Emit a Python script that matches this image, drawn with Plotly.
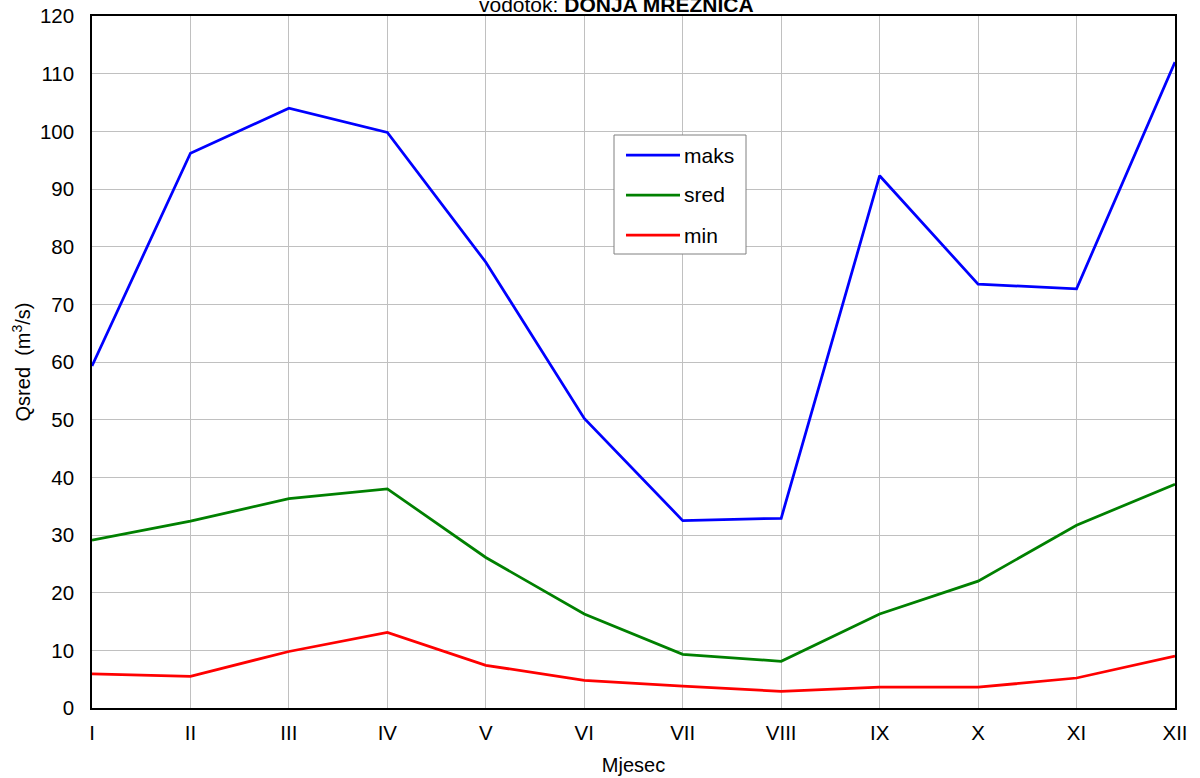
import plotly.graph_objects as go

months = ["I", "II", "III", "IV", "V", "VI", "VII", "VIII", "IX", "X", "XI", "XII"]
maks = [59.3, 96.2, 104.0, 99.8, 77.3, 50.2, 32.5, 32.9, 92.3, 73.5, 72.7, 112.0]
sred = [29.1, 32.4, 36.3, 38.0, 26.1, 16.3, 9.3, 8.1, 16.3, 22.0, 31.7, 38.8]
minv = [5.9, 5.5, 9.8, 13.1, 7.4, 4.8, 3.8, 2.9, 3.6, 3.6, 5.2, 9.0]

series = [("maks", maks, "#0000ff"), ("sred", sred, "#008000"), ("min", minv, "#ff0000")]

FONT = "Liberation Sans, Arial, sans-serif"
L, R, T, B = 92, 25, 16, 70
W, H = 1200, 778
pw, ph = W - L - R, H - T - B

fig = go.Figure()
for name, vals, col in series:
    fig.add_trace(go.Scatter(x=list(range(len(months))), y=vals, mode="lines", name=name,
                             line=dict(color=col, width=2.75), showlegend=False))

def px_x(p):
    return (p - L) / pw

def px_y(p):
    return (H - B - p) / ph

shapes = [dict(type="rect", xref="paper", yref="paper", x0=px_x(614), x1=px_x(746),
               y0=px_y(254), y1=px_y(135), line=dict(color="#808080", width=1),
               fillcolor="white", layer="above")]
annotations = []
for i, (name, vals, col) in enumerate(series):
    yy = 155 + 40 * i
    shapes.append(dict(type="line", xref="paper", yref="paper", x0=px_x(626), x1=px_x(680),
                       y0=px_y(yy), y1=px_y(yy), line=dict(color=col, width=2.75), layer="above"))
    annotations.append(dict(xref="paper", yref="paper", x=px_x(682), y=px_y(yy), text=name,
                            showarrow=False, xanchor="left", yanchor="middle",
                            font=dict(size=21, color="black", family=FONT)))

annotations.append(dict(xref="paper", yref="paper", x=px_x(616), y=px_y(4.5),
                        text="vodotok: <b>DONJA MREŽNICA</b>", showarrow=False,
                        xanchor="center", yanchor="middle",
                        font=dict(size=21, color="black", family=FONT)))

fig.update_layout(
    width=W, height=H,
    margin=dict(l=L, r=R, t=T, b=B),
    paper_bgcolor="white", plot_bgcolor="white",
    font=dict(family=FONT, size=20, color="black"),
    shapes=shapes, annotations=annotations,
    xaxis=dict(tickmode="array", tickvals=list(range(len(months))), ticktext=months,
               range=[0, len(months) - 1], showgrid=True, gridcolor="#c0c0c0", gridwidth=1,
               showline=True, linecolor="black", linewidth=1.5, mirror=True,
               ticks="outside", ticklen=6, tickcolor="rgba(0,0,0,0)",
               zeroline=False, tickfont=dict(size=20.5), automargin=False,
               title=dict(text="Mjesec", font=dict(size=20), standoff=15)),
    yaxis=dict(range=[0, 120], dtick=10, showgrid=True, gridcolor="#c0c0c0", gridwidth=1,
               showline=True, linecolor="black", linewidth=1.5, mirror=True,
               ticks="outside", ticklen=12, tickcolor="rgba(0,0,0,0)",
               zeroline=False, tickfont=dict(size=20.5), automargin=False,
               title=dict(text="Qsred  (m<sup>3</sup>/s)", font=dict(size=20), standoff=4)),
)

fig.write_html("out.html", config={"displayModeBar": False},
               post_script="document.body.style.margin='0';")
